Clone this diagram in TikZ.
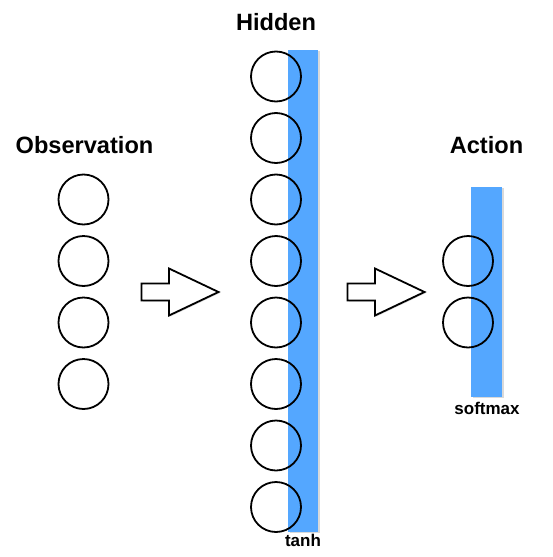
\documentclass[tikz,border=0pt]{standalone}
\usepackage{fontspec}
\setmainfont{Liberation Sans}
\usetikzlibrary{shadows}
\definecolor{barblue}{RGB}{84,167,255}
\tikzset{
	neuron/.style={circle,draw,line width=1.8pt,minimum size=50pt,inner sep=0pt},
	actbar/.style={rectangle,fill=barblue,draw=none,inner sep=0pt,
		drop shadow={opacity=0.3,shadow xshift=1.5pt,shadow yshift=-1pt}},
	title/.style={anchor=base,font=\fontsize{23.6}{28}\selectfont\bfseries},
	actname/.style={anchor=base,font=\fontsize{17}{20}\selectfont\bfseries},
	fatarrow/.pic={
		\draw[line width=1.8pt,fill=white,line join=miter,
		drop shadow={opacity=0.3,shadow xshift=1.5pt,shadow yshift=-1pt}]
		(0,-8.5) -- (27.5,-8.5) -- (27.5,-23.5) -- (77,0) -- (27.5,23.5)
		-- (27.5,8.5) -- (0,8.5) -- cycle;}
}
\begin{document}
\begin{tikzpicture}[x=1pt,y=-1pt,line join=round,line cap=round]
	\useasboundingbox (0,0) rectangle (553,557);
	% Các thanh hàm kích hoạt
	\node[actbar,minimum width=30pt,minimum height=482pt] (hbar) at (303,291) {};
	\node[actbar,minimum width=31pt,minimum height=210pt] (abar) at (486.5,292) {};
	% Tên các lớp
	\node[title] (tobs) at (84.5,153) {Observation};
	\node[title] (thid) at (276,30.7) {Hidden};
	\node[title] (tact) at (486.5,153) {Action};
	\node[actname] (ttanh) at (303,546) {tanh};
	\node[actname] (tsoft) at (487,414) {softmax};
	% Các nơ-ron
	\foreach \i in {1,...,4}
	\node[neuron] (o\i) at (83.5,{199.5+61.5*(\i-1)}) {};
	\foreach \i in {1,...,8}
	\node[neuron] (h\i) at (276,{76.5+61.5*(\i-1)}) {};
	\foreach \i in {1,2}
	\node[neuron] (a\i) at (468,{261+61.5*(\i-1)}) {};
	% Hai mũi tên lớn
	\pic (arr1) at (141.5,292) {fatarrow};
	\pic (arr2) at (347.5,292) {fatarrow};
\end{tikzpicture}
\end{document}
